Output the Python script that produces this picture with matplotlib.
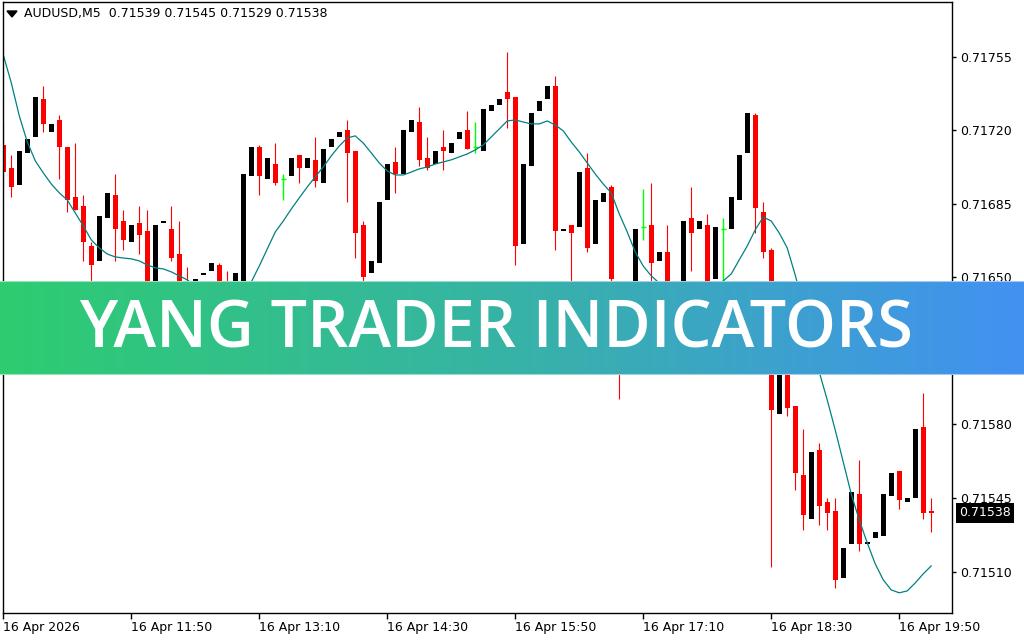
import numpy as np
import matplotlib.pyplot as plt
from matplotlib.colors import LinearSegmentedColormap
from matplotlib.patches import Polygon

symbol = "AUDUSD,M5"

opens = [0.71713, 0.71702, 0.71694, 0.71709, 0.71717, 0.71735, 0.71719, 0.71725, 0.71712, 0.71688,
         0.71684, 0.71665, 0.71658, 0.71678, 0.71689, 0.71677, 0.71667, 0.71676, 0.71672, 0.71639,
         0.71676, 0.71673, 0.71661, 0.71644, 0.71642, 0.71651, 0.71653, 0.71656, 0.71646, 0.71644,
         0.71648, 0.71698, 0.71712, 0.71697, 0.71704, 0.71697, 0.71698, 0.71708, 0.71702, 0.71706,
         0.71695, 0.71712, 0.71717, 0.71720, 0.71710, 0.71675, 0.71652, 0.71657, 0.71687, 0.71705,
         0.71699, 0.71719, 0.71724, 0.71707, 0.71704, 0.71712, 0.71709, 0.71716, 0.71720, 0.71712,
         0.71710, 0.71729, 0.71732, 0.71738, 0.71736, 0.71666, 0.71703, 0.71729, 0.71735, 0.71741,
         0.71672, 0.71675, 0.71674, 0.71702, 0.71666, 0.71686, 0.71693, 0.71648, 0.71625, 0.71634,
         0.71674, 0.71675, 0.71658, 0.71662, 0.71635, 0.71637, 0.71678, 0.71673, 0.71675, 0.71649,
         0.71673, 0.71673, 0.71687, 0.71709, 0.71727, 0.71681, 0.71663, 0.71585, 0.71616, 0.71589,
         0.71556, 0.71535, 0.71568, 0.71543, 0.71539, 0.71507, 0.71523, 0.71547, 0.71523, 0.71526,
         0.71527, 0.71546, 0.71558, 0.71543, 0.71545, 0.71579, 0.71539]
highs = [0.71723, 0.71708, 0.71710, 0.71716, 0.71736, 0.71741, 0.71723, 0.71727, 0.71712, 0.71714,
         0.71689, 0.71667, 0.71679, 0.71690, 0.71699, 0.71682, 0.71675, 0.71684, 0.71682, 0.71675,
         0.71677, 0.71684, 0.71677, 0.71655, 0.71649, 0.71652, 0.71657, 0.71657, 0.71653, 0.71652,
         0.71699, 0.71712, 0.71713, 0.71707, 0.71714, 0.71699, 0.71707, 0.71708, 0.71707, 0.71717,
         0.71711, 0.71716, 0.71719, 0.71725, 0.71710, 0.71677, 0.71658, 0.71686, 0.71704, 0.71712,
         0.71720, 0.71725, 0.71731, 0.71717, 0.71710, 0.71720, 0.71714, 0.71719, 0.71729, 0.71724,
         0.71730, 0.71732, 0.71735, 0.71757, 0.71736, 0.71704, 0.71728, 0.71734, 0.71741, 0.71746,
         0.71673, 0.71675, 0.71700, 0.71709, 0.71687, 0.71690, 0.71694, 0.71648, 0.71637, 0.71673,
         0.71692, 0.71695, 0.71662, 0.71675, 0.71641, 0.71677, 0.71693, 0.71677, 0.71680, 0.71674,
         0.71678, 0.71688, 0.71708, 0.71728, 0.71728, 0.71686, 0.71664, 0.71618, 0.71620, 0.71589,
         0.71578, 0.71567, 0.71571, 0.71545, 0.71545, 0.71521, 0.71548, 0.71563, 0.71524, 0.71529,
         0.71547, 0.71557, 0.71558, 0.71545, 0.71578, 0.71595, 0.71545]
lows = [0.71693, 0.71688, 0.71694, 0.71709, 0.71717, 0.71719, 0.71719, 0.71697, 0.71681, 0.71682,
        0.71658, 0.71645, 0.71658, 0.71678, 0.71658, 0.71663, 0.71667, 0.71661, 0.71635, 0.71639,
        0.71676, 0.71658, 0.71637, 0.71631, 0.71642, 0.71651, 0.71653, 0.71637, 0.71633, 0.71644,
        0.71648, 0.71698, 0.71689, 0.71697, 0.71694, 0.71687, 0.71698, 0.71695, 0.71702, 0.71693,
        0.71695, 0.71712, 0.71717, 0.71686, 0.71659, 0.71647, 0.71652, 0.71657, 0.71687, 0.71690,
        0.71699, 0.71719, 0.71703, 0.71701, 0.71704, 0.71701, 0.71709, 0.71716, 0.71711, 0.71709,
        0.71710, 0.71729, 0.71732, 0.71721, 0.71656, 0.71666, 0.71703, 0.71729, 0.71735, 0.71663,
        0.71672, 0.71634, 0.71674, 0.71662, 0.71666, 0.71686, 0.71645, 0.71592, 0.71620, 0.71634,
        0.71668, 0.71639, 0.71658, 0.71636, 0.71631, 0.71637, 0.71653, 0.71673, 0.71639, 0.71649,
        0.71640, 0.71673, 0.71687, 0.71709, 0.71671, 0.71659, 0.71512, 0.71585, 0.71584, 0.71549,
        0.71530, 0.71535, 0.71532, 0.71530, 0.71502, 0.71507, 0.71523, 0.71520, 0.71523, 0.71526,
        0.71527, 0.71546, 0.71540, 0.71543, 0.71545, 0.71535, 0.71529]
closes = [0.71700, 0.71693, 0.71710, 0.71716, 0.71736, 0.71723, 0.71723, 0.71712, 0.71687, 0.71682,
          0.71667, 0.71656, 0.71679, 0.71690, 0.71673, 0.71668, 0.71675, 0.71670, 0.71639, 0.71675,
          0.71677, 0.71659, 0.71642, 0.71635, 0.71649, 0.71652, 0.71657, 0.71640, 0.71639, 0.71652,
          0.71699, 0.71712, 0.71698, 0.71707, 0.71695, 0.71697, 0.71707, 0.71702, 0.71707, 0.71696,
          0.71711, 0.71716, 0.71719, 0.71709, 0.71671, 0.71650, 0.71658, 0.71686, 0.71704, 0.71699,
          0.71720, 0.71725, 0.71706, 0.71702, 0.71710, 0.71710, 0.71714, 0.71719, 0.71711, 0.71712,
          0.71730, 0.71732, 0.71735, 0.71735, 0.71665, 0.71704, 0.71728, 0.71734, 0.71741, 0.71672,
          0.71673, 0.71671, 0.71700, 0.71664, 0.71687, 0.71690, 0.71649, 0.71627, 0.71634, 0.71673,
          0.71674, 0.71657, 0.71662, 0.71639, 0.71639, 0.71677, 0.71671, 0.71677, 0.71643, 0.71674,
          0.71673, 0.71688, 0.71708, 0.71728, 0.71683, 0.71662, 0.71587, 0.71618, 0.71588, 0.71557,
          0.71537, 0.71567, 0.71541, 0.71538, 0.71506, 0.71521, 0.71548, 0.71523, 0.71524, 0.71529,
          0.71547, 0.71557, 0.71544, 0.71545, 0.71578, 0.71538, 0.71538]
ma_line = [0.717558, 0.717425, 0.717268, 0.717144, 0.717054, 0.716997, 0.716944, 0.716902, 0.716868, 0.716806,
           0.716745, 0.716678, 0.716640, 0.716611, 0.716597, 0.716592, 0.716588, 0.716578, 0.716559, 0.716545,
           0.716540, 0.716526, 0.716507, 0.716488, 0.716455, 0.716421, 0.716402, 0.716397, 0.716407, 0.716426,
           0.716455, 0.716478, 0.716554, 0.716635, 0.716716, 0.716768, 0.716825, 0.716878, 0.716930, 0.716978,
           0.717025, 0.717078, 0.717125, 0.717163, 0.717173, 0.717139, 0.717092, 0.717044, 0.717006, 0.716987,
           0.716987, 0.717001, 0.717016, 0.717025, 0.717039, 0.717049, 0.717059, 0.717073, 0.717087, 0.717106,
           0.717130, 0.717168, 0.717206, 0.717244, 0.717249, 0.717239, 0.717230, 0.717230, 0.717244, 0.717225,
           0.717197, 0.717144, 0.717097, 0.717044, 0.716992, 0.716944, 0.716902, 0.716802, 0.716716, 0.716621,
           0.716554, 0.716507, 0.716473, 0.716440, 0.716412, 0.716393, 0.716388, 0.716397, 0.716421, 0.716455,
           0.716483, 0.716516, 0.716583, 0.716649, 0.716726, 0.716787, 0.716768, 0.716711, 0.716640, 0.716511,
           0.716369, 0.716202, 0.716050, 0.715917, 0.715774, 0.715622, 0.715470, 0.715346, 0.715237, 0.715137,
           0.715061, 0.715013, 0.714999, 0.715008, 0.715046, 0.715089, 0.715127]

time_labels = ["16 Apr 2026", "16 Apr 11:50", "16 Apr 13:10", "16 Apr 14:30",
               "16 Apr 15:50", "16 Apr 17:10", "16 Apr 18:30", "16 Apr 19:50"]
label_bars = [0, 16, 32, 48, 64, 80, 96, 112]
price_ticks = [0.71510, 0.71545, 0.71580, 0.71615, 0.71650, 0.71685, 0.71720, 0.71755]
banner_text = "YANG TRADER INDICATORS"

o = np.array(opens)
h = np.array(highs)
l = np.array(lows)
c = np.array(closes)
x = np.arange(len(o))

fig = plt.figure(figsize=(10.24, 6.4), dpi=100)
ax = fig.add_axes([2.7 / 1024, 27 / 640, 949.3 / 1024, 611 / 640])

down = c < o
up = c > o
doji = c == o

# bear candles: red wick + body
ax.vlines(x[down], l[down], h[down], color='red', lw=0.8)
ax.bar(x[down], o[down] - c[down], bottom=c[down], width=0.6, color='red', lw=0)
# bull candles: black body only (terminal draws their wicks in white)
ax.bar(x[up], c[up] - o[up], bottom=o[up], width=0.6, color='black', lw=0)
# doji crosses
ax.vlines(x[doji], l[doji], h[doji], color='#00ff00', lw=1)
ax.hlines(o[doji], x[doji] - 0.3, x[doji] + 0.3, color='#00ff00', lw=1)

ax.plot(x, ma_line, color='#008080', lw=0.9)

ax.set_xlim(-0.075, 118.6)
ax.set_ylim(0.714903, 0.717810)

ax.yaxis.tick_right()
ax.set_yticks(price_ticks)
ax.set_yticklabels(["%.5f" % p for p in price_ticks])
ax.set_xticks(label_bars)
ax.set_xticklabels(time_labels, ha='left')
ax.tick_params(axis='y', direction='out', length=3, pad=3, labelsize=9, width=1)
ax.tick_params(axis='x', direction='out', length=4, pad=2, labelsize=9, width=1)
for s in ax.spines.values():
    s.set_linewidth(1)
    s.set_color('black')

# last price marker
ax.text(1.0075, closes[-1], "%.5f" % closes[-1], transform=ax.get_yaxis_transform(),
        ha='left', va='center', color='white', fontsize=9,
        bbox=dict(facecolor='black', edgecolor='none', pad=2.5))

# header
title = "%s  %.5f %.5f %.5f %.5f" % (symbol, opens[-1], highs[-1], lows[-1], closes[-1])
fig.text(24 / 1024, 1 - 14 / 640, title, va='center', ha='left', fontsize=9)
fig.add_artist(Polygon([[7 / 1024, 1 - 11 / 640], [17 / 1024, 1 - 11 / 640], [12 / 1024, 1 - 17 / 640]],
                       closed=True, color='black', transform=fig.transFigure))

# banner
bax = fig.add_axes([0, 265 / 640, 1, 94 / 640])
cmap = LinearSegmentedColormap.from_list('bn', ['#2ecc71', '#37b3a6', '#4291f2'])
bax.imshow(np.linspace(0, 1, 256).reshape(1, -1), aspect='auto', cmap=cmap, extent=[0, 1, 0, 1])
bax.axhline(1.0, color='white', alpha=0.5, lw=1.5)
bax.axhline(0.0, color='white', alpha=0.5, lw=1.5)
bax.set_xlim(0, 1)
bax.set_ylim(0, 1)
bax.axis('off')
bax.text(0.484, 0.29, banner_text, ha='center', va='baseline', color='white',
         fontsize=46.5, family='Open Sans', fontweight='semibold')

fig.savefig('out.png', dpi=100)
